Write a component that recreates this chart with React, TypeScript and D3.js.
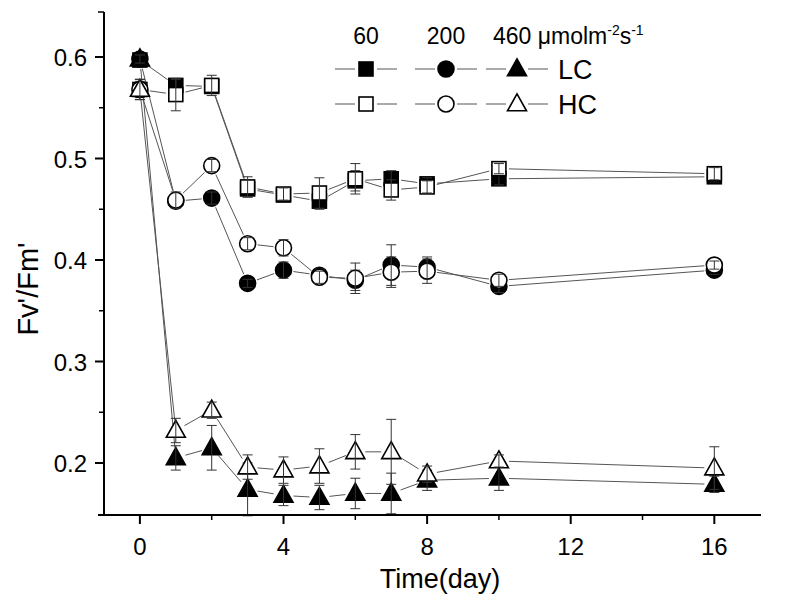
import React from "react";
import * as d3 from "d3";

const days = [0, 1, 2, 3, 4, 5, 6, 7, 8, 10, 16];
const xTicks = [0, 4, 8, 12, 16];
const xMinor = [2, 6, 10, 14];
const yTicks = [0.2, 0.3, 0.4, 0.5, 0.6];
const yMinor = [0.25, 0.35, 0.45, 0.55];

const lc60 = [0.597, 0.572, 0.571, 0.47, 0.464, 0.458, 0.478, 0.48, 0.475, 0.48, 0.482];
const lc60Err = [0.004, 0.006, 0.006, 0.008, 0.006, 0.008, 0.01, 0.008, 0.006, 0.006, 0.005];
const hc60 = [0.568, 0.563, 0.572, 0.472, 0.465, 0.466, 0.48, 0.469, 0.472, 0.49, 0.485];
const hc60Err = [0.008, 0.016, 0.01, 0.01, 0.006, 0.015, 0.015, 0.01, 0.006, 0.005, 0.006];
const lc200 = [0.598, 0.458, 0.461, 0.377, 0.39, 0.385, 0.38, 0.395, 0.393, 0.374, 0.39];
const lc200Err = [0.004, 0.006, 0.006, 0.004, 0.008, 0.006, 0.01, 0.02, 0.01, 0.006, 0.004];
const hc200 = [0.568, 0.459, 0.493, 0.416, 0.412, 0.383, 0.382, 0.388, 0.389, 0.38, 0.395];
const hc200Err = [0.01, 0.008, 0.006, 0.006, 0.008, 0.006, 0.015, 0.015, 0.012, 0.006, 0.004];
const lc460 = [0.598, 0.205, 0.215, 0.174, 0.168, 0.166, 0.17, 0.17, 0.183, 0.185, 0.179];
const lc460Err = [0.004, 0.012, 0.022, 0.026, 0.01, 0.012, 0.015, 0.02, 0.01, 0.012, 0.008];
const hc460 = [0.568, 0.232, 0.252, 0.196, 0.193, 0.197, 0.211, 0.211, 0.189, 0.202, 0.195];
const hc460Err = [0.01, 0.012, 0.008, 0.012, 0.013, 0.017, 0.017, 0.032, 0.008, 0.006, 0.021];

const legendCols = ["60", "200", "460"];
const legendRows = ["LC", "HC"];

type Shape = "square" | "circle" | "triangle";
const series: { vals: number[]; err: number[]; shape: Shape; filled: boolean }[] = [
  { vals: lc60, err: lc60Err, shape: "square", filled: true },
  { vals: lc200, err: lc200Err, shape: "circle", filled: true },
  { vals: lc460, err: lc460Err, shape: "triangle", filled: true },
  { vals: hc60, err: hc60Err, shape: "square", filled: false },
  { vals: hc200, err: hc200Err, shape: "circle", filled: false },
  { vals: hc460, err: hc460Err, shape: "triangle", filled: false },
];

const FONT = "Arial, 'Liberation Sans', sans-serif";

function Marker({ x, y, shape, filled }: { x: number; y: number; shape: Shape; filled: boolean }) {
  const fill = filled ? "#000" : "#fff";
  const sw = 1.6;
  if (shape === "square") {
    const s = 14;
    return <rect x={x - s / 2} y={y - s / 2} width={s} height={s} fill={fill} stroke="#000" strokeWidth={sw} />;
  }
  if (shape === "circle") {
    return <circle cx={x} cy={y} r={8} fill={fill} stroke="#000" strokeWidth={sw} />;
  }
  const h = 17;
  const w = 19;
  const p = `M${x},${y - h * 0.6} L${x + w / 2},${y + h * 0.4} L${x - w / 2},${y + h * 0.4} Z`;
  return <path d={p} fill={fill} stroke="#000" strokeWidth={sw} strokeLinejoin="miter" />;
}

export default function App() {
  const W = 794;
  const H = 600;
  const x = d3.scaleLinear().domain([-1, 17.3]).range([104, 761]);
  const y = d3.scaleLinear().domain([0.2, 0.6]).range([463, 57]);
  const yBottom = 515;
  const yTop = 12;
  const gap = 10;

  const segs = (vals: number[]) => {
    const out: string[] = [];
    for (let i = 0; i < vals.length - 1; i++) {
      const x1 = x(days[i]), y1 = y(vals[i]);
      const x2 = x(days[i + 1]), y2 = y(vals[i + 1]);
      const dx = x2 - x1, dy = y2 - y1;
      const L = Math.hypot(dx, dy);
      if (L <= gap * 2) continue;
      const ux = dx / L, uy = dy / L;
      out.push(`M${x1 + ux * gap},${y1 + uy * gap}L${x2 - ux * gap},${y2 - uy * gap}`);
    }
    return out.join("");
  };

  const legX = [366, 446, 517];
  const legY = [69, 104];

  return (
    <svg width={W} height={H} style={{ display: "block", position: "absolute", left: 0, top: 0, background: "#fff" }}>
      <rect x={0} y={0} width={W} height={H} fill="#fff" />
      {series.map((s, i) => (
        <path key={"l" + i} d={segs(s.vals)} fill="none" stroke="#555" strokeWidth={1} />
      ))}
      {series.map((s, i) => (
        <g key={"m" + i}>
          {s.vals.map((v, j) => {
            const cx = x(days[j]);
            const cy = y(v);
            const y1 = y(v + s.err[j]);
            const y2 = y(v - s.err[j]);
            return (
              <g key={j}>
                <Marker x={cx} y={cy} shape={s.shape} filled={s.filled} />
                <g stroke="#333" strokeWidth={1}>
                  <line x1={cx} x2={cx} y1={y1} y2={y2} />
                  <line x1={cx - 5} x2={cx + 5} y1={y1} y2={y1} />
                  <line x1={cx - 5} x2={cx + 5} y1={y2} y2={y2} />
                </g>
              </g>
            );
          })}
        </g>
      ))}
      <g stroke="#000" strokeWidth={2}>
        <line x1={104} x2={104} y1={yTop} y2={yBottom} />
        <line x1={98} x2={x(17.3)} y1={yBottom} y2={yBottom} />
        <line x1={98} x2={104} y1={yTop} y2={yTop} strokeWidth={1.5} />
        {xTicks.map((t) => (
          <line key={"xt" + t} x1={x(t)} x2={x(t)} y1={yBottom} y2={yBottom + 9} />
        ))}
        {xMinor.map((t) => (
          <line key={"xm" + t} x1={x(t)} x2={x(t)} y1={yBottom} y2={yBottom + 5} strokeWidth={1.5} />
        ))}
        {yTicks.map((t) => (
          <line key={"yt" + t} x1={104} x2={95} y1={y(t)} y2={y(t)} />
        ))}
        {yMinor.map((t) => (
          <line key={"ym" + t} x1={104} x2={99} y1={y(t)} y2={y(t)} strokeWidth={1.5} />
        ))}
      </g>
      <g fontFamily={FONT} fontSize={24} fill="#000">
        {xTicks.map((t) => (
          <text key={"xl" + t} x={x(t)} y={555} textAnchor="middle">
            {t}
          </text>
        ))}
        {yTicks.map((t) => (
          <text key={"yl" + t} x={87} y={y(t) + 9} textAnchor="end">
            {t.toFixed(1)}
          </text>
        ))}
      </g>
      <text x={440} y={588} textAnchor="middle" fontFamily={FONT} fontSize={27}>
        Time(day)
      </text>
      <text
        transform={`translate(38,${289}) rotate(-90)`}
        textAnchor="middle"
        fontFamily={FONT}
        fontSize={29}
      >
        Fv'/Fm'
      </text>
      <g fontFamily={FONT} fontSize={23}>
        <text x={legX[0]} y={44} textAnchor="middle">{legendCols[0]}</text>
        <text x={legX[1]} y={44} textAnchor="middle">{legendCols[1]}</text>
        <text x={493} y={44}>
          {legendCols[2]} μmolm<tspan dy={-9} fontSize={14}>-2</tspan>
          <tspan dy={9}>s</tspan>
          <tspan dy={-9} fontSize={14}>-1</tspan>
        </text>
      </g>
      {legendRows.map((r, ri) => (
        <g key={r}>
          {legX.map((lx, ci) => (
            <g key={ci}>
              <line x1={lx - 31} x2={lx - 11} y1={legY[ri]} y2={legY[ri]} stroke="#555" strokeWidth={1} />
              <line x1={lx + 11} x2={lx + 31} y1={legY[ri]} y2={legY[ri]} stroke="#555" strokeWidth={1} />
              <Marker
                x={lx}
                y={legY[ri]}
                shape={(["square", "circle", "triangle"] as Shape[])[ci]}
                filled={ri === 0}
              />
            </g>
          ))}
          <text x={558} y={legY[ri] + 10} fontFamily={FONT} fontSize={27}>
            {r}
          </text>
        </g>
      ))}
    </svg>
  );
}
